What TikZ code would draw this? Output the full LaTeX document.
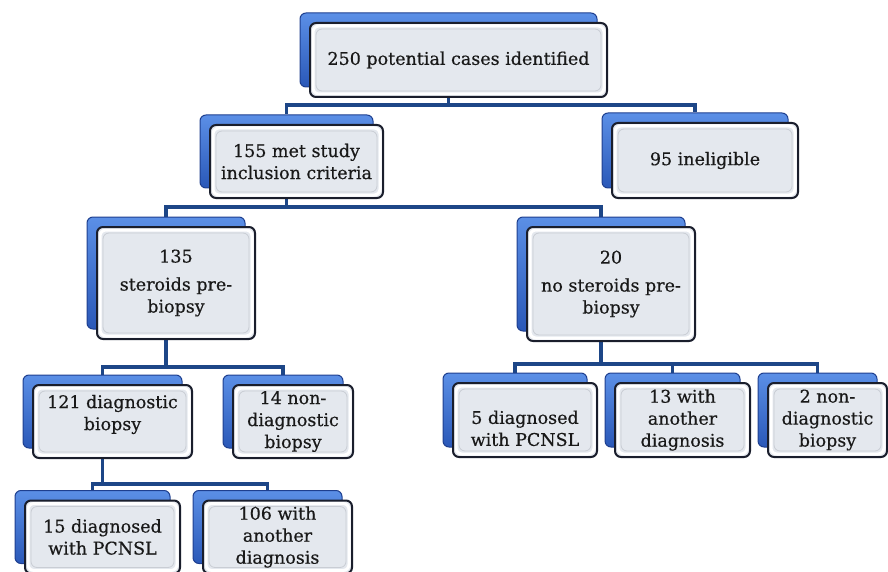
\documentclass[tikz,border=0pt]{standalone}
\usepackage{fontspec}
\setmainfont{DejaVu Serif}
\newfontfamily\boxfont{DejaVu Serif}[FakeBold=0.5]
\usetikzlibrary{calc}
\definecolor{backtop}{HTML}{5B8FE6}
\definecolor{backbot}{HTML}{2A58B8}
\definecolor{backline}{HTML}{1E3F8F}
\definecolor{frontline}{HTML}{1A1E2C}
\definecolor{frontfill}{HTML}{E4E8EE}
\definecolor{bevelgray}{HTML}{C9CDD4}
\definecolor{connline}{HTML}{1D4687}
\pgfdeclarelayer{bg}
\pgfsetlayers{bg,main}
\tikzset{
  backbox/.style={rectangle, rounded corners=6pt, draw=backline, line width=1pt,
    top color=backtop, bottom color=backbot, inner sep=0pt},
  frontbox/.style={rectangle, rounded corners=6pt, draw=frontline, line width=2pt,
    fill=frontfill, align=center, inner sep=2pt, text=black!90,
    font=\boxfont\fontsize{17.5pt}{22pt}\selectfont,
    path picture={
      \draw[white, line width=3pt]
        ([shift={(3pt,-3pt)}]path picture bounding box.north west) rectangle
        ([shift={(-3pt,3pt)}]path picture bounding box.south east);
      \draw[bevelgray, line width=0.8pt]
        ([shift={(6pt,-6pt)}]path picture bounding box.north west) rectangle
        ([shift={(-6pt,6pt)}]path picture bounding box.south east);
    }},
  conn/.style={draw=connline, line width=3.5pt},
}
\newcommand\mybox[6]{%
  \node[backbox, minimum width=#4pt, minimum height=#5pt] (#1b) at (#2-10,#3-10) {};
  \node[frontbox, minimum width=#4pt, minimum height=#5pt] (#1) at (#2,#3) {#6};
}
\begin{document}
\begin{tikzpicture}[x=1pt,y=-1pt]
\useasboundingbox (0,0) rectangle (888,572);

\mybox{top}{458.5}{60}{297}{74}{250 potential cases identified}
\mybox{inc}{296.5}{161.5}{173}{73}{155 met study\\inclusion criteria}
\mybox{inel}{705}{160.5}{186}{75}{95 ineligible}
\mybox{ster}{176}{283}{158}{112}{135\\[6pt]steroids pre-\\biopsy}
\mybox{nost}{611}{284}{168}{114}{20\\[6pt]no steroids pre-\\biopsy}
\mybox{diag}{112.5}{421.5}{159}{73}{121 diagnostic\\biopsy\\[-4pt]\mbox{}}
\mybox{nond}{293}{421.5}{120}{73}{14 non-\\diagnostic\\biopsy}
\mybox{pcl}{102.5}{537}{155}{73}{15 diagnosed\\with PCNSL}
\mybox{anl}{277.5}{537}{149}{73}{106 with\\another\\diagnosis}
\mybox{pcr}{525}{420}{144}{74}{\mbox{}\\[8pt]5 diagnosed\\with PCNSL}
\mybox{anr}{682.5}{420}{135}{74}{13 with\\another\\diagnosis}
\mybox{ndr}{827.5}{420}{119}{74}{2 non-\\diagnostic\\biopsy}

\begin{pgfonlayer}{bg}
\draw[conn] (topb |- top.south) -- ++(0,7) -| (incb.north);
\draw[conn] (topb |- top.south) -- ++(0,7) -| (inelb.north);
\draw[conn] (incb |- inc.south) -- ++(0,8) -| (sterb.north);
\draw[conn] (incb |- inc.south) -- ++(0,8) -| (nostb.north);
\draw[conn] (sterb |- ster.south) -- ++(0,27) -| (diagb.north);
\draw[conn] (sterb |- ster.south) -- ++(0,27) -| (nondb.north);
\draw[conn] (nostb |- nost.south) -- ++(0,22) -| (pcrb.north);
\draw[conn] (nostb |- nost.south) -- ++(0,22) -| (anrb.north);
\draw[conn] (nostb |- nost.south) -- ++(0,22) -| (ndrb.north);
\draw[conn] (diagb |- diag.south) -- ++(0,25) -| (pclb.north);
\draw[conn] (diagb |- diag.south) -- ++(0,25) -| (anlb.north);
\end{pgfonlayer}
\end{tikzpicture}
\end{document}
